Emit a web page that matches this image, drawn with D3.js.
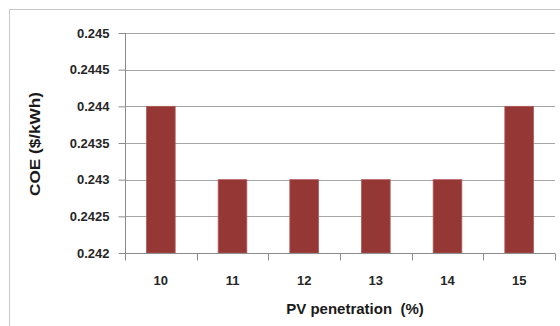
<!DOCTYPE html>
<html>
<head>
<meta charset="utf-8">
<script src="https://cdn.jsdelivr.net/npm/d3@7"></script>
<style>
  html, body { margin: 0; padding: 0; background: #fff; }
  svg { display: block; }
</style>
</head>
<body>
<script>
// PV penetration levels and the resulting cost of energy
const categories = ["10", "11", "12", "13", "14", "15"];
const coeValues = [0.244, 0.243, 0.243, 0.243, 0.243, 0.244];
const yTicks = [0.242, 0.2425, 0.243, 0.2435, 0.244, 0.2445, 0.245];
const yTickLabels = ["0.242", "0.2425", "0.243", "0.2435", "0.244", "0.2445", "0.245"];

const W = 560, H = 326;
const plot = { left: 125, right: 555, top: 33, bottom: 253 };

const svg = d3.select("body").append("svg")
  .attr("width", W).attr("height", H);

// chart frame
svg.append("rect")
  .attr("x", 9.5).attr("y", 9.5)
  .attr("width", 580).attr("height", 340)
  .attr("fill", "#fff")
  .attr("stroke", "#c8c8c8")
  .attr("stroke-width", 1);

const x = d3.scaleBand()
  .domain(categories)
  .range([plot.left, plot.right])
  .paddingInner(0.6)
  .paddingOuter(0.3);

const y = d3.scaleLinear()
  .domain([0.242, 0.245])
  .range([plot.bottom, plot.top]);

const font = "'Liberation Sans', Arial, sans-serif";

// horizontal gridlines
svg.append("g")
  .selectAll("line")
  .data(yTicks.slice(1))
  .join("line")
  .attr("x1", plot.left).attr("x2", plot.right)
  .attr("y1", d => Math.round(y(d)) + 0.5)
  .attr("y2", d => Math.round(y(d)) + 0.5)
  .attr("stroke", "#a6a6a6")
  .attr("stroke-width", 1.2);

// bars
svg.append("g")
  .selectAll("rect")
  .data(categories.map((c, i) => ({ c, v: coeValues[i] })))
  .join("rect")
  .attr("x", d => x(d.c))
  .attr("width", x.bandwidth())
  .attr("y", d => y(d.v))
  .attr("height", d => y(0.242) - y(d.v))
  .attr("fill", "#953735")
  .attr("stroke", "#b25a58")
  .attr("stroke-width", 0.8);

// y axis
const yAxis = d3.axisLeft(y)
  .tickValues(yTicks)
  .tickFormat((d, i) => yTickLabels[i])
  .tickSize(7)
  .tickPadding(9);

const gy = svg.append("g")
  .attr("transform", `translate(${plot.left + 0.5},0)`)
  .call(yAxis);
gy.select(".domain").attr("stroke", "#8c8c8c").attr("d", `M0,${plot.top}V${plot.bottom}`);
gy.selectAll(".tick line").attr("stroke", "#8c8c8c");
gy.selectAll(".tick text")
  .attr("font-family", font)
  .attr("font-size", 13)
  .attr("font-weight", "bold")
  .attr("fill", "#262626");

// x axis with tick marks between categories
const xAxis = d3.axisBottom(x).tickSize(0).tickPadding(22);
const gx = svg.append("g")
  .attr("transform", `translate(0,${plot.bottom + 0.5})`)
  .call(xAxis);
gx.select(".domain").attr("stroke", "#8c8c8c").attr("d", `M${plot.left},0H${plot.right}`);
gx.selectAll(".tick text")
  .attr("font-family", font)
  .attr("font-size", 13)
  .attr("font-weight", "bold")
  .attr("fill", "#262626");

const boundaries = d3.range(categories.length + 1).map(i => plot.left + i * (plot.right - plot.left) / categories.length);
gx.append("g")
  .selectAll("line")
  .data(boundaries)
  .join("line")
  .attr("x1", d => Math.round(d) + 0.5).attr("x2", d => Math.round(d) + 0.5)
  .attr("y1", 0).attr("y2", 7)
  .attr("stroke", "#8c8c8c");

// axis titles
svg.append("text")
  .attr("x", 355).attr("y", 314)
  .attr("text-anchor", "middle")
  .attr("font-family", font)
  .attr("font-size", 15)
  .attr("font-weight", "bold")
  .attr("fill", "#1a1a1a")
  .attr("xml:space", "preserve")
  .text("PV penetration  (%)");

svg.append("text")
  .attr("transform", "translate(39.5,144) rotate(-90)")
  .attr("text-anchor", "middle")
  .attr("font-family", font)
  .attr("font-size", 14)
  .attr("font-weight", "bold")
  .attr("fill", "#1a1a1a")
  .attr("textLength", 104)
  .attr("lengthAdjust", "spacingAndGlyphs")
  .text("COE ($/kWh)");
</script>
</body>
</html>
